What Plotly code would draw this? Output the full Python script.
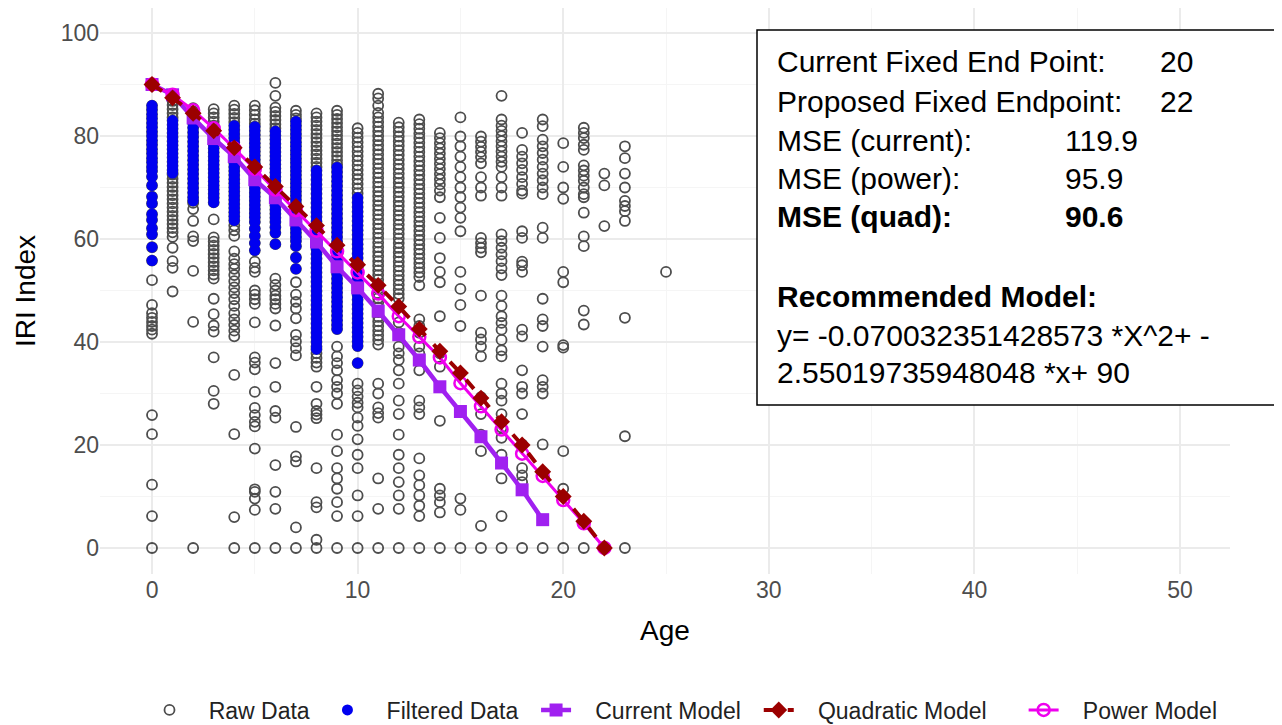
import plotly.graph_objects as go

# ---------------- data ----------------
ages = [0, 1, 2, 3, 4, 5, 6, 7, 8, 9, 10, 11, 12, 13, 14, 15, 16, 17, 18, 19, 20, 21, 22, 23, 25]

# filtered (blue) IRI values by age
filt_a00 = [85.9, 85.1, 84.2, 83.4, 82.5, 81.7, 80.8, 80.0, 79.1, 78.3, 77.4, 76.6, 75.7, 74.9, 74.0, 73.2, 72.1, 70.4, 68.2, 66.9, 64.8, 63.7, 62.1, 60.9, 58.4, 55.8]
filt_a01 = [83.0, 82.2, 81.4, 80.6, 79.8, 79.0, 78.2, 77.4, 76.6, 75.8, 75.0, 74.2, 73.4, 72.8]
filt_a02 = [84.3, 83.4, 82.5, 81.6, 80.7, 79.8, 78.9, 78.0, 77.1, 76.2, 75.3, 74.4, 73.5, 72.6, 71.7, 70.8, 69.9, 69.0, 68.1, 67.4]
filt_a03 = [80.8, 80.0, 79.2, 78.4, 77.6, 76.8, 76.0, 75.2, 74.4, 73.6, 72.8, 72.0, 71.2, 70.4, 69.6, 68.8, 68.0, 67.1]
filt_a04 = [82.0, 81.2, 80.4, 79.6, 78.8, 78.0, 77.2, 76.4, 75.6, 74.8, 74.0, 73.2, 72.4, 71.6, 70.8, 70.0, 69.2, 68.4, 67.6, 66.8, 66.0, 65.2, 64.4, 63.6]
filt_a05 = [81.8, 81.0, 80.2, 79.4, 78.6, 77.8, 77.0, 76.2, 75.4, 74.6, 73.8, 73.0, 72.2, 71.4, 70.6, 69.8, 69.0, 68.2, 67.4, 66.6, 65.8, 65.0, 64.2, 63.3, 62.0, 60.6, 59.2, 57.8]
filt_a06 = [80.9, 80.1, 79.3, 78.5, 77.7, 76.9, 76.1, 75.3, 74.5, 73.7, 72.9, 72.1, 71.3, 70.5, 69.7, 68.9, 68.1, 67.3, 66.5, 65.7, 64.9, 64.1, 63.3, 62.3, 61.2, 59.0]
filt_a07 = [82.8, 82.0, 81.2, 80.4, 79.6, 78.8, 78.0, 77.2, 76.4, 75.6, 74.8, 74.0, 73.2, 72.4, 71.6, 70.8, 70.0, 69.2, 68.4, 67.6, 66.8, 66.0, 65.2, 64.4, 63.6, 62.8, 62.0, 61.2, 60.4, 59.6, 58.6, 56.4, 54.2]
filt_a08 = [73.3, 72.4, 71.5, 70.6, 69.7, 68.8, 67.9, 67.0, 66.1, 65.2, 64.3, 63.4, 62.5, 61.6, 60.7, 59.8, 58.9, 58.0, 57.1, 56.2, 55.3, 54.4, 53.5, 52.6, 51.7, 50.8, 49.9, 49.0, 48.1, 47.2, 46.3, 45.4, 44.5, 43.6, 42.7, 41.8, 40.9, 40.0, 39.1, 38.6]
filt_a09 = [73.9, 73.0, 72.1, 71.2, 70.3, 69.4, 68.5, 67.6, 66.7, 65.8, 64.9, 64.0, 63.1, 62.2, 61.3, 60.4, 59.5, 58.6, 57.7, 56.8, 55.9, 55.0, 54.1, 53.2, 52.3, 51.4, 50.5, 49.6, 48.7, 47.8, 46.9, 46.0, 45.1, 44.2, 43.3, 42.5]
filt_a10 = [68.0, 67.1, 66.2, 65.3, 64.4, 63.5, 62.6, 61.7, 60.8, 59.9, 59.0, 58.1, 57.2, 56.3, 55.4, 54.5, 53.6, 52.7, 51.8, 50.9, 50.0, 49.1, 48.2, 47.3, 46.4, 45.5, 44.6, 43.7, 42.8, 41.9, 41.0, 40.1, 39.2, 35.9]

# remaining raw (grey) IRI values by age
raw_a00 = [52.0, 47.2, 45.6, 44.7, 43.9, 43.1, 42.4, 41.6, 25.8, 22.1, 12.3, 6.2, 0]
raw_a01 = [87.6, 86.8, 86.0, 85.2, 84.4, 83.6, 72.5, 71.7, 70.9, 70.1, 69.3, 68.5, 67.7, 66.9, 66.1, 65.3, 64.5, 63.7, 62.9, 62.1, 61.3, 60.4, 58.3, 55.7, 54.4, 49.8]
raw_a02 = [85.4, 84.8, 67.0, 65.8, 63.5, 60.5, 59.6, 53.8, 43.9, 0]
raw_a03 = [85.2, 84.4, 83.6, 82.8, 82.0, 81.4, 63.8, 60.3, 59.5, 58.7, 57.9, 57.1, 56.3, 55.5, 54.7, 53.9, 53.1, 52.3, 48.4, 45.4, 43.2, 42.0, 37.0, 30.5, 28.0]
raw_a04 = [85.9, 85.1, 84.3, 83.5, 82.7, 62.6, 61.7, 60.6, 57.6, 56.2, 55.1, 54.2, 53.0, 51.8, 50.6, 49.5, 48.3, 47.0, 45.6, 44.4, 43.3, 42.2, 41.1, 33.6, 22.1, 6.0, 0]
raw_a05 = [85.9, 85.0, 84.1, 83.2, 82.4, 55.6, 54.4, 53.6, 50.0, 49.2, 48.3, 47.4, 43.8, 37.0, 36.0, 34.7, 30.3, 27.2, 25.8, 24.5, 23.6, 19.3, 11.4, 10.9, 9.6, 7.4, 0]
raw_a06 = [90.3, 87.8, 85.5, 84.7, 83.9, 83.1, 82.3, 81.5, 52.3, 51.1, 50.0, 49.0, 48.3, 47.4, 46.5, 43.2, 35.9, 31.3, 26.6, 25.3, 16.1, 10.9, 7.6, 0]
raw_a07 = [84.9, 84.1, 83.4, 51.6, 49.2, 47.8, 46.5, 44.6, 41.4, 40.1, 38.8, 37.4, 23.5, 17.8, 16.8, 4.0, 0]
raw_a08 = [84.4, 83.6, 82.8, 82.0, 81.2, 80.4, 79.6, 78.8, 78.0, 77.2, 76.4, 75.6, 74.8, 74.0, 37.8, 36.9, 36.0, 35.2, 31.3, 28.0, 26.6, 25.9, 25.2, 15.5, 8.9, 7.9, 1.6, 0]
raw_a09 = [84.9, 84.1, 83.3, 82.5, 81.7, 80.9, 80.1, 79.3, 78.5, 77.7, 76.9, 76.1, 75.3, 74.5, 39.1, 37.2, 35.9, 34.5, 32.6, 31.3, 30.0, 28.0, 22.0, 18.8, 15.5, 13.5, 11.5, 8.9, 6.2, 0]
raw_a10 = [81.5, 80.6, 79.7, 78.8, 77.9, 77.0, 76.1, 75.2, 74.3, 73.4, 72.5, 71.6, 70.7, 69.8, 68.9, 31.9, 30.6, 29.4, 28.2, 27.3, 25.3, 23.7, 21.1, 18.1, 15.5, 10.2, 6.2, 0]
raw_a11 = [88.2, 87.3, 85.9, 84.5, 83.6, 82.7, 81.8, 80.9, 80.0, 79.1, 78.2, 77.3, 76.4, 75.5, 74.6, 73.7, 72.8, 71.9, 71.0, 70.1, 69.2, 68.3, 67.4, 66.5, 65.6, 64.7, 63.8, 62.9, 62.0, 61.1, 60.2, 59.3, 58.4, 57.5, 56.6, 55.7, 54.8, 53.9, 53.0, 52.1, 51.2, 50.3, 49.4, 48.5, 47.6, 46.7, 45.8, 44.9, 44.0, 43.1, 42.2, 41.3, 40.4, 39.5, 31.9, 30.0, 27.3, 26.2, 25.3, 13.5, 7.6, 0]
raw_a12 = [82.6, 81.7, 80.8, 79.9, 79.0, 78.1, 77.2, 76.3, 75.4, 74.5, 73.6, 72.7, 71.8, 70.9, 70.0, 69.1, 68.2, 67.3, 66.4, 65.5, 64.6, 63.7, 62.8, 61.9, 61.0, 60.1, 59.2, 58.3, 57.4, 56.5, 55.6, 54.7, 53.8, 52.9, 52.0, 51.1, 50.2, 49.3, 48.5, 43.8, 41.8, 39.1, 37.8, 36.5, 34.5, 31.9, 28.6, 26.0, 22.0, 18.1, 15.5, 12.8, 10.2, 7.6, 0]
raw_a13 = [83.2, 82.3, 81.4, 80.5, 79.6, 78.7, 77.8, 76.9, 76.0, 75.1, 74.2, 73.3, 72.4, 71.5, 70.6, 69.7, 68.8, 67.9, 67.0, 66.1, 65.2, 64.3, 63.4, 62.5, 61.6, 60.7, 59.8, 58.9, 58.0, 57.1, 56.2, 55.3, 54.4, 53.5, 52.6, 51.0, 44.4, 43.1, 41.8, 39.1, 37.8, 36.5, 34.5, 28.6, 27.3, 26.0, 17.4, 14.1, 12.2, 10.2, 8.2, 6.2, 0]
raw_a14 = [80.6, 79.6, 78.6, 77.6, 76.6, 75.6, 74.6, 73.6, 72.6, 71.6, 70.6, 69.4, 68.1, 64.1, 60.2, 56.3, 53.6, 51.6, 45.0, 37.8, 35.2, 24.7, 11.5, 10.2, 8.9, 6.9, 0]
raw_a15 = [83.6, 79.9, 78.0, 76.0, 74.0, 72.0, 70.0, 68.1, 66.1, 64.1, 61.5, 53.6, 50.3, 47.2, 43.1, 9.6, 7.4, 0]
raw_a16 = [79.9, 78.9, 77.9, 76.9, 75.9, 74.7, 72.0, 70.0, 68.4, 60.2, 59.2, 58.3, 57.4, 49.0, 41.8, 40.5, 39.1, 37.2, 29.3, 26.0, 22.0, 18.8, 4.3, 0]
raw_a17 = [87.8, 83.2, 82.0, 81.0, 80.0, 79.0, 78.0, 77.0, 76.0, 75.0, 74.0, 72.0, 70.0, 68.4, 60.9, 59.6, 58.3, 57.0, 55.7, 54.3, 53.0, 49.0, 47.0, 45.0, 43.7, 42.4, 40.4, 38.4, 37.2, 31.9, 30.0, 28.6, 26.0, 23.4, 21.4, 18.1, 13.5, 6.2, 0]
raw_a18 = [80.6, 77.3, 76.0, 74.7, 73.4, 72.0, 70.7, 69.4, 68.8, 61.5, 60.2, 55.6, 54.9, 53.6, 42.4, 41.1, 34.5, 31.3, 30.0, 26.0, 20.1, 15.5, 14.1, 12.8, 0]
raw_a19 = [83.2, 81.9, 79.3, 78.0, 76.7, 75.4, 74.0, 72.7, 71.4, 70.0, 68.7, 62.2, 60.2, 48.4, 44.4, 43.1, 39.1, 32.6, 31.3, 30.0, 20.1, 0]
raw_a20 = [78.6, 74.0, 70.0, 67.8, 53.6, 51.6, 39.4, 38.9, 18.8, 11.5, 0]
raw_a21 = [81.6, 80.6, 79.6, 78.3, 77.3, 74.3, 73.3, 72.3, 71.3, 70.0, 68.7, 68.1, 65.1, 60.5, 58.6, 46.1, 43.4, 0]
raw_a22 = [72.7, 70.4, 62.5, 0]
raw_a23 = [78.0, 75.7, 72.7, 70.0, 67.4, 66.4, 65.4, 63.5, 44.7, 21.7, 0]
raw_a25 = [53.6]

# model curves
current_age = [0, 1, 2, 3, 4, 5, 6, 7, 8, 9, 10, 11, 12, 13, 14, 15, 16, 17, 18, 19]
current_iri = [90, 88.0, 83.5, 79.5, 76.0, 71.5, 68.0, 63.7, 59.4, 54.6, 50.5, 46.0, 41.4, 36.5, 31.3, 26.5, 21.6, 16.5, 11.3, 5.5]
quad_age = [0, 1, 2, 3, 4, 5, 6, 7, 8, 9, 10, 11, 12, 13, 14, 15, 16, 17, 18, 19, 20, 21, 22]
quad_iri = [90, 87.4, 84.4, 81.0, 77.7, 74.0, 70.2, 66.3, 62.6, 58.8, 55.0, 51.0, 46.9, 42.5, 38.2, 34.0, 29.1, 24.5, 20.0, 14.8, 10.0, 5.2, 0]
power_age = [0, 1, 2, 3, 4, 5, 6, 7, 8, 9, 10, 11, 12, 13, 14, 15, 16, 17, 18, 19, 20, 21, 22]
power_iri = [90, 88.0, 85.0, 81.5, 77.6, 73.6, 69.6, 65.6, 61.6, 57.6, 53.5, 49.4, 45.0, 41.0, 37.0, 32.0, 27.5, 23.0, 18.3, 14.0, 9.3, 4.8, 0]

x_ticks = [0, 10, 20, 30, 40, 50]
y_ticks = [0, 20, 40, 60, 80, 100]

filt_lists = [filt_a00, filt_a01, filt_a02, filt_a03, filt_a04, filt_a05, filt_a06,
              filt_a07, filt_a08, filt_a09, filt_a10]
raw_lists = [raw_a00, raw_a01, raw_a02, raw_a03, raw_a04, raw_a05, raw_a06, raw_a07,
             raw_a08, raw_a09, raw_a10, raw_a11, raw_a12, raw_a13, raw_a14, raw_a15,
             raw_a16, raw_a17, raw_a18, raw_a19, raw_a20, raw_a21, raw_a22, raw_a23, raw_a25]

filt_x, filt_y = [], []
for a, vals in zip(ages, filt_lists):
    filt_x += [a] * len(vals)
    filt_y += vals
raw_x, raw_y = [], []
for a, vals in zip(ages, raw_lists):
    raw_x += [a] * len(vals)
    raw_y += vals
# raw data includes the filtered points as well
raw_x += filt_x
raw_y += filt_y

# ---------------- figure ----------------
# the page body has an 8px margin, so figure coordinates = screen coordinates - 8
OFF = 8
W, H = 1274, 717
L, R, T, B = 92, 52, 0, 151
PW, PH = W - L - R, H - T - B


def px(xs):
    return (xs - OFF - L) / PW


def py(ys):
    return (H - B - (ys - OFF)) / PH


FONT = "Liberation Sans, Arial, sans-serif"
NB = "\u00a0"

fig = go.Figure()
fig.add_trace(go.Scatter(
    x=raw_x, y=raw_y, mode="markers", name=NB * 3 + "Raw Data" + NB * 2, legendrank=1,
    marker=dict(symbol="circle-open", size=10, color="#4D4D4D", line=dict(width=1.8, color="#4D4D4D"))))
fig.add_trace(go.Scatter(
    x=filt_x, y=filt_y, mode="markers", name=NB * 3 + "Filtered Data" + NB * 2, legendrank=2,
    marker=dict(symbol="circle", size=11, color="#0000F0")))
fig.add_trace(go.Scatter(
    x=current_age, y=current_iri, mode="lines+markers", name=NB * 3 + "Current Model" + NB * 2, legendrank=3,
    line=dict(color="#A020F0", width=4.5),
    marker=dict(symbol="square", size=13, color="#A020F0")))
fig.add_trace(go.Scatter(
    x=power_age, y=power_iri, mode="lines+markers", name=NB * 3 + "Power Model", legendrank=5,
    line=dict(color="#EE00EE", width=3),
    marker=dict(symbol="circle-open", size=12, color="#EE00EE", line=dict(width=2.5, color="#EE00EE"))))
fig.add_trace(go.Scatter(
    x=quad_age, y=quad_iri, mode="lines+markers", name=NB * 3 + "Quadratic Model" + NB * 5, legendrank=4,
    line=dict(color="#9B0000", width=4, dash="dash"),
    marker=dict(symbol="diamond", size=13, color="#9B0000")))

fig.update_layout(
    width=W, height=H,
    margin=dict(l=L, r=R, t=T, b=B, autoexpand=False),
    paper_bgcolor="white", plot_bgcolor="white",
    font=dict(family=FONT, color="#000000"),
    showlegend=True,
    legend=dict(orientation="h", x=px(686), xanchor="center", y=py(710), yanchor="middle",
                font=dict(size=23, color="#222222", family=FONT), itemwidth=30,
                traceorder="normal"),
    xaxis=dict(range=[-2.53, 52.43], tickvals=x_ticks, ticktext=[str(v) for v in x_ticks],
               showgrid=True, gridcolor="#EBEBEB", gridwidth=1.5, zeroline=False, showline=False,
               ticks="", tickfont=dict(size=23, color="#4D4D4D", family=FONT), automargin=False,
               minor=dict(dtick=5, tick0=0, showgrid=True, gridcolor="#F5F5F5", gridwidth=1),
               title=dict(text="Age", font=dict(size=28, color="#000000", family=FONT), standoff=18)),
    yaxis=dict(range=[-5.05, 104.85], tickvals=y_ticks, ticktext=[str(v) for v in y_ticks],
               showgrid=True, gridcolor="#EBEBEB", gridwidth=1.5, zeroline=False, showline=False,
               ticks="", tickfont=dict(size=23, color="#4D4D4D", family=FONT), automargin=False,
               minor=dict(dtick=10, tick0=10, showgrid=True, gridcolor="#F5F5F5", gridwidth=1),
               title=dict(text="IRI Index", font=dict(size=28, color="#000000", family=FONT), standoff=16)),
)

# annotation box
fig.add_shape(type="rect", xref="paper", yref="paper",
              x0=px(757), x1=px(1275), y0=py(405), y1=py(30),
              fillcolor="white", line=dict(color="black", width=1.5), layer="above")

BOXFONT = dict(family=FONT, size=30, color="#000000")
lines = [
    ("Current Fixed End Point:", 61.7, 1160, "20", False),
    ("Proposed Fixed Endpoint:", 101.7, 1160, "22", False),
    ("MSE (current):", 140, 1065, "119.9", False),
    ("MSE (power):", 178.3, 1065, "95.9", False),
    ("MSE (quad):", 216.7, 1065, "90.6", True),
]
for label, yy, xv, val, bold in lines:
    t1 = f"<b>{label}</b>" if bold else label
    t2 = f"<b>{val}</b>" if bold else val
    fig.add_annotation(xref="paper", yref="paper", x=px(775), y=py(yy), text=t1,
                       showarrow=False, xanchor="left", yanchor="middle", font=BOXFONT)
    fig.add_annotation(xref="paper", yref="paper", x=px(xv - 2), y=py(yy), text=t2,
                       showarrow=False, xanchor="left", yanchor="middle", font=BOXFONT)
fig.add_annotation(xref="paper", yref="paper", x=px(775), y=py(296.7), text="<b>Recommended Model:</b>",
                   showarrow=False, xanchor="left", yanchor="middle", font=BOXFONT)
fig.add_annotation(xref="paper", yref="paper", x=px(775), y=py(335), text="y= -0.070032351428573 *X^2+ -",
                   showarrow=False, xanchor="left", yanchor="middle", font=BOXFONT)
fig.add_annotation(xref="paper", yref="paper", x=px(775), y=py(373), text="2.55019735948048 *x+ 90",
                   showarrow=False, xanchor="left", yanchor="middle", font=BOXFONT)

fig.write_html("out.html")
